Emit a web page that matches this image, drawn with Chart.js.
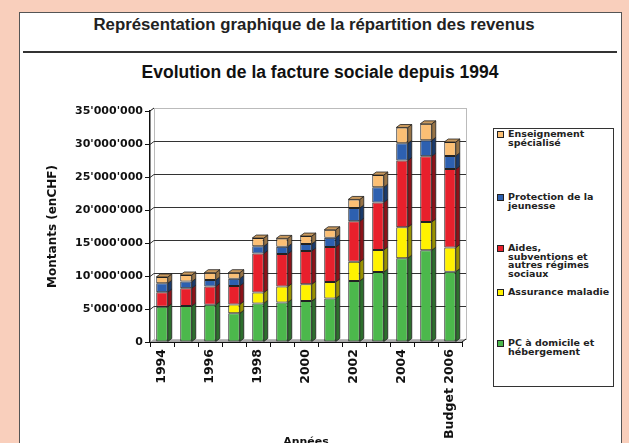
<!DOCTYPE html>
<html>
<head>
<meta charset="utf-8">
<script src="https://cdn.jsdelivr.net/npm/chart.js@4/dist/chart.umd.min.js"></script>
<style>
  body { margin: 0; width: 629px; height: 443px; overflow: hidden; background: #f9cfbc; position: relative; }
  #panel { position: absolute; left: 19px; top: 12px; width: 601px; height: 460px; background: #fff; border: 1px solid #555; }
  #pageTitle { position: absolute; left: 19px; top: 15px; width: 590px; text-align: center;
    font: bold 16.8px "Liberation Sans", Arial, sans-serif; color: #222; }
  #rule { position: absolute; left: 23px; top: 51px; width: 594px; height: 2px; background: #333; }
  #subTitle { position: absolute; left: 20px; top: 62px; width: 600px; text-align: center;
    font: bold 17.5px "Liberation Sans", Arial, sans-serif; color: #111; }
  #chartBox { position: absolute; left: 20px; top: 55px; width: 600px; height: 400px; }
  #legend { position: absolute; left: 493px; top: 128px; width: 119px; height: 257px; border: 1px solid #333; background: #fff; }
  .item { position: absolute; left: 3px; font: bold 9.5px "DejaVu Sans", sans-serif; line-height: 8.6px; color: #222; white-space: pre-line; }
  .item i { position: absolute; left: 0; top: 1px; width: 5px; height: 5px; border: 1px solid #222; }
  .item span { display: block; margin-left: 11px; }
</style>
</head>
<body>
<div id="panel"></div>
<div id="pageTitle">Représentation graphique de la répartition des revenus</div>
<div id="rule"></div>
<div id="subTitle">Evolution de la facture sociale depuis 1994</div>
<div id="chartBox"><canvas id="chart" width="600" height="400"></canvas></div>
<div id="legend"></div>
<script>
// Years on the category axis (only every other one gets a label)
const years = ["1994", "1995", "1996", "1997", "1998", "1999", "2000", "2001", "2002", "2003", "2004", "2005", "Budget 2006"];

// Amounts in CHF per category, bottom of the stack first
const pcDomicile = [5350000, 5450000, 5650000, 4350000, 5850000, 6000000, 6200000, 6600000, 9250000, 10600000, 12700000, 13900000, 10650000];
const assuranceMaladie = [0, 0, 0, 1350000, 1650000, 2400000, 2550000, 2500000, 2900000, 3350000, 4700000, 4300000, 3650000];
const aidesSubventions = [2200000, 2700000, 2750000, 2800000, 5900000, 4950000, 5050000, 5300000, 6150000, 7200000, 10100000, 9950000, 11900000];
const protectionJeunesse = [1350000, 1000000, 1000000, 1100000, 1100000, 1100000, 1050000, 1400000, 2000000, 2300000, 2600000, 2400000, 2000000];
const enseignementSpecialise = [950000, 1000000, 1100000, 900000, 1250000, 1250000, 1200000, 1200000, 1300000, 1850000, 2400000, 2500000, 2100000];

const seriesNames = ["PC à domicile et\nhébergement", "Assurance maladie", "Aides,\nsubventions et\nautres régimes\nsociaux", "Protection de la\njeunesse", "Enseignement\nspécialisé"];
const seriesColors = ["#4cb84c", "#fff200", "#e8202c", "#2d60b0", "#fbbf74"];
const seriesValues = [pcDomicile, assuranceMaladie, aidesSubventions, protectionJeunesse, enseignementSpecialise];

const yTicks = [0, 5000000, 10000000, 15000000, 20000000, 25000000, 30000000, 35000000];

function fmt(v) {
  return String(v).replace(/\B(?=(\d{3})+(?!\d))/g, "'");
}

function shade(hex, f) {
  const n = parseInt(hex.slice(1), 16);
  const r = Math.round(((n >> 16) & 255) * f), g = Math.round(((n >> 8) & 255) * f), b = Math.round((n & 255) * f);
  return "rgb(" + r + "," + g + "," + b + ")";
}

const DX = 4, DY = 3;

// fake 3D: back wall, floor, grid on the wall, bar sides and tops
const depth = {
  id: "depth",
  beforeDatasetsDraw(chart) {
    const { ctx, chartArea: a, scales } = chart;
    ctx.save();
    ctx.fillStyle = "#a9a9a9";
    ctx.beginPath();
    ctx.moveTo(a.left, a.bottom);
    ctx.lineTo(a.right, a.bottom);
    ctx.lineTo(a.right + DX, a.bottom - DY);
    ctx.lineTo(a.left + DX, a.bottom - DY);
    ctx.closePath();
    ctx.fill();
    ctx.strokeStyle = "#bbb";
    ctx.lineWidth = 1;
    ctx.strokeRect(a.left + DX + 0.5, a.top - DY + 0.5, a.right - a.left, a.bottom - a.top);
    ctx.strokeStyle = "#333";
    yTicks.forEach(v => {
      if (v === 0 || v === 35000000) return;
      const y = Math.round(scales.y.getPixelForValue(v)) + 0.5;
      ctx.beginPath();
      ctx.moveTo(a.left, y);
      ctx.lineTo(a.left + DX, y - DY);
      ctx.lineTo(a.right + DX, y - DY);
      ctx.stroke();
    });
    ctx.strokeStyle = "#111";
    ctx.beginPath();
    ctx.moveTo(a.left, a.top);
    ctx.lineTo(a.left + DX, a.top - DY);
    ctx.moveTo(a.right, a.bottom);
    ctx.lineTo(a.right + DX, a.bottom - DY);
    ctx.stroke();
    ctx.restore();
  },
  afterDatasetsDraw(chart) {
    const ctx = chart.ctx;
    const n = chart.data.datasets.length;
    ctx.save();
    ctx.strokeStyle = "#222";
    ctx.lineWidth = 0.8;
    for (let i = 0; i < n; i++) {
      const meta = chart.getDatasetMeta(i);
      const color = chart.data.datasets[i].backgroundColor;
      meta.data.forEach((bar, j) => {
        const p = bar.getProps(["x", "y", "base", "width"], true);
        if (p.base - p.y < 0.5) return;
        const l = p.x - p.width / 2, r = p.x + p.width / 2;
        ctx.fillStyle = shade(color, 0.6);
        ctx.beginPath();
        ctx.moveTo(r, p.y);
        ctx.lineTo(r + DX, p.y - DY);
        ctx.lineTo(r + DX, p.base - DY);
        ctx.lineTo(r, p.base);
        ctx.closePath();
        ctx.fill();
        ctx.stroke();
        let top = true;
        for (let k = i + 1; k < n; k++) if (chart.data.datasets[k].data[j] > 0) top = false;
        if (top) {
          ctx.fillStyle = shade(color, 0.8);
          ctx.beginPath();
          ctx.moveTo(l, p.y);
          ctx.lineTo(l + DX, p.y - DY);
          ctx.lineTo(r + DX, p.y - DY);
          ctx.lineTo(r, p.y);
          ctx.closePath();
          ctx.fill();
          ctx.stroke();
        }
      });
    }
    ctx.restore();
  }
};

const chart = new Chart(document.getElementById("chart"), {
  type: "bar",
  data: {
    labels: years,
    datasets: seriesValues.map((vals, i) => ({
      label: seriesNames[i].replace(/\n/g, " "),
      data: vals,
      backgroundColor: seriesColors[i],
      borderColor: "#222",
      borderWidth: 1,
      borderSkipped: false,
      barPercentage: 0.48,
      categoryPercentage: 1
    }))
  },
  options: {
    responsive: false,
    animation: false,
    layout: { padding: { left: 0, right: 158, top: 56, bottom: 0 } },
    plugins: {
      legend: { display: false },
      tooltip: { enabled: false }
    },
    scales: {
      x: {
        stacked: true,
        afterFit: s => { s.height = 113; },
        border: { color: "#111", width: 1 },
        grid: { offset: true, drawOnChartArea: false, tickLength: 5, color: "#111" },
        ticks: {
          autoSkip: false, minRotation: 90, maxRotation: 90, color: "#111",
          font: { family: "DejaVu Sans", weight: "bold", size: 12.5 }, padding: 2,
          callback: (v, i) => (i % 2 === 0 ? years[i] : "")
        },
        title: { display: true, text: "Années", color: "#111", font: { family: "DejaVu Sans", weight: "bold", size: 11 }, padding: { top: 0, bottom: 6 } }
      },
      y: {
        stacked: true,
        min: 0,
        max: 35000000,
        afterFit: s => { s.width = 130; },
        afterBuildTicks: s => { s.ticks = yTicks.map(v => ({ value: v })); },
        border: { color: "#111", width: 1.5 },
        grid: { drawOnChartArea: false, tickLength: 5, color: "#111" },
        ticks: { color: "#111", font: { family: "DejaVu Sans", weight: "bold", size: 11 }, padding: 2, callback: v => fmt(v) },
        title: { display: true, text: "Montants (enCHF)", color: "#111", font: { family: "DejaVu Sans", weight: "bold", size: 12 }, padding: { top: 26, bottom: 0 } }
      }
    }
  },
  plugins: [depth]
});

// legend box, top entry = top of the stack
const legendTops = [1, 64, 115, 159, 210];
const legend = document.getElementById("legend");
chart.data.datasets.slice().reverse().forEach((ds, k) => {
  const idx = chart.data.datasets.length - 1 - k;
  const div = document.createElement("div");
  div.className = "item";
  div.style.top = legendTops[k] + "px";
  div.innerHTML = '<i style="background:' + ds.backgroundColor + '"></i><span>' + seriesNames[idx] + "</span>";
  legend.appendChild(div);
});
</script>
</body>
</html>
